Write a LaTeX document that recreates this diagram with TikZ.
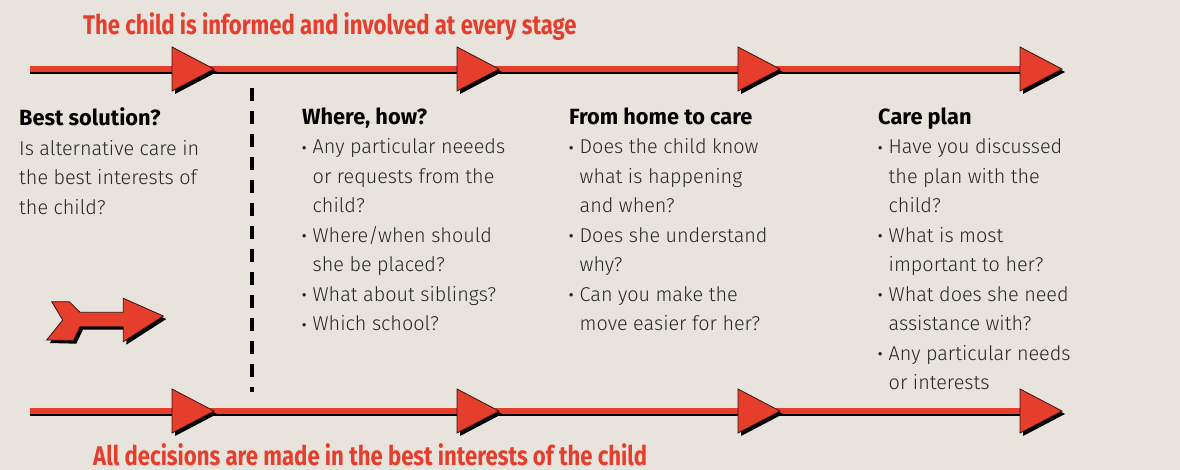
\documentclass[tikz,border=0pt]{standalone}
\usepackage{fontspec}
\setmainfont{Fira Sans Light}[BoldFont={Fira Sans Bold}, FakeStretch=0.99]
\newfontfamily\headfont{Fira Sans Bold}[FakeStretch=0.99]
\newfontfamily\redfont{Fira Sans Bold}[FakeStretch=0.82]
\definecolor{bg}{HTML}{E8E4DD}
\definecolor{myred}{HTML}{E53E2D}
\definecolor{txt}{HTML}{262626}
\definecolor{shade}{HTML}{3A1410}
\newcommand\bul{\makebox[10.5pt][l]{\raisebox{1.6pt}{\scalebox{0.62}{\headfont •}}}}
\newcommand\ind{\hspace*{10.5pt}}
\newcommand\hd[1]{{\headfont\fontsize{22}{29.5}\selectfont\color{black}#1}}
\tikzset{
  coltext/.style={anchor=north west, inner sep=0pt, align=left, text=txt,
    font=\fontsize{20}{29.5}\selectfont},
  redtitle/.style={anchor=base west, inner sep=0pt, text=myred,
    font=\redfont\fontsize{27}{30}\selectfont},
  tri/.style={fill=myred, draw=shade, line width=0.8pt, line join=miter},
  trishadow/.style={fill=black},
}
\newcommand\tri[2]{%
  \fill[trishadow] (#1+3,#2-22+3) -- (#1+42+3,#2+3) -- (#1+3,#2+22+3) -- cycle;
  \filldraw[tri] (#1,#2-22) -- (#1+42,#2) -- (#1,#2+22) -- cycle;}
\begin{document}
\begin{tikzpicture}[x=1pt,y=-1pt]
\fill[bg] (0,0) rectangle (1180,470);
\useasboundingbox (0,0) rectangle (1180,470);
% titles
\node[redtitle] (toptitle) at (83,35) {The child is informed and involved at every stage};
\node[redtitle] (bottitle) at (93,465) {All decisions are made in the best interests of the child};
% timelines
\coordinate (ts) at (30,69);
\coordinate (te) at (1040,69);
\coordinate (bs) at (30,411);
\coordinate (be) at (1040,411);
\draw[shade, line width=2.4pt] ([yshift=-3.5pt]ts) -- ([yshift=-3.5pt]te);
\draw[myred, line width=6pt] (ts) -- (te);
\draw[shade, line width=2.4pt] ([yshift=-3.5pt]bs) -- ([yshift=-3.5pt]be);
\draw[myred, line width=6pt] (bs) -- (be);
\foreach \x in {172,457,738,1020}{\tri{\x}{69}\tri{\x}{411}}
% dashed separator
\coordinate (d1) at (252,88);
\coordinate (d2) at (252,392);
\draw[black, line width=3.6pt, dash pattern=on 13pt off 10pt] (d1) -- (d2);
% small arrow
\begin{scope}[shift={(3,3)}]
\fill[black] (51.7,301.7) -- (69.3,301.7) -- (80,312.3) -- (123.3,312.3) -- (123.3,298.3) -- (163.3,316) -- (123.3,341.7) -- (123.3,326.7) -- (80,326.7) -- (73.3,340.7) -- (46.7,340) -- (62.7,320) -- cycle;
\end{scope}
\filldraw[tri] (51.7,301.7) -- (69.3,301.7) -- (80,312.3) -- (123.3,312.3) -- (123.3,298.3) -- (163.3,316) -- (123.3,341.7) -- (123.3,326.7) -- (80,326.7) -- (73.3,340.7) -- (46.7,340) -- (62.7,320) -- cycle;
% columns
\node[coltext] (c1) at (19,107.5) {\hd{Best solution?}\\
Is alternative care in\\the best interests of\\the child?};
\node[coltext] (c2) at (302,107.5) {\hd{Where, how?}\\
\bul Any particular neeeds\\\ind or requests from the\\\ind child?\\
\bul Where/when should\\\ind she be placed?\\
\bul What about siblings?\\
\bul Which school?};
\node[coltext] (c3) at (569,107.5) {\hd{From home to care}\\
\bul Does the child know\\\ind what is happening\\\ind and when?\\
\bul Does she understand\\\ind why?\\
\bul Can you make the\\\ind move easier for her?};
\node[coltext] (c4) at (878,107.5) {\hd{Care plan}\\
\bul Have you discussed\\\ind the plan with the\\\ind child?\\
\bul What is most\\\ind important to her?\\
\bul What does she need\\\ind assistance with?\\
\bul Any particular needs\\\ind or interests};
\end{tikzpicture}
\end{document}
